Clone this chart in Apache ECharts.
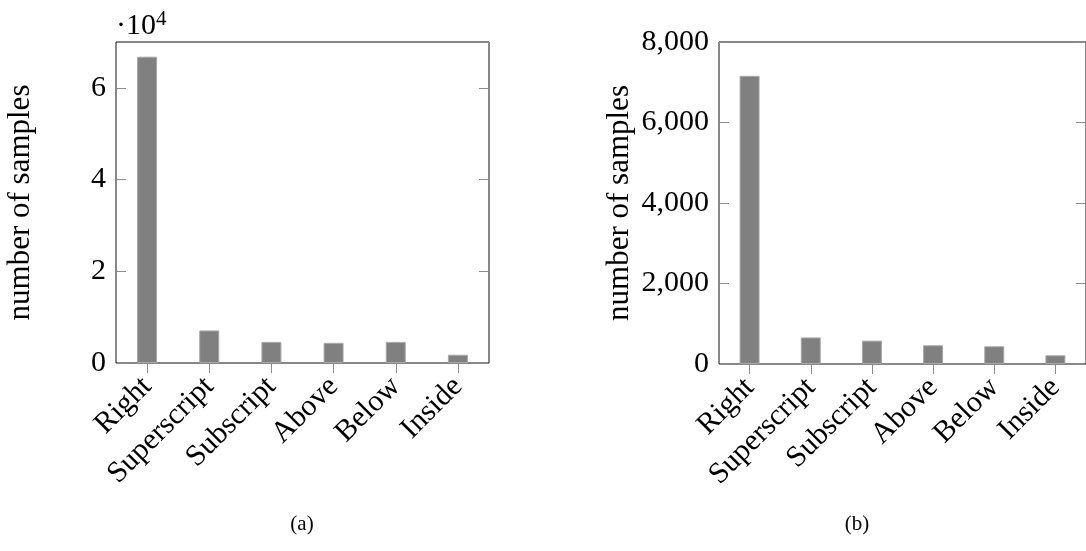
<!DOCTYPE html>
<html>
<head>
<meta charset="utf-8">
<script src="https://cdn.jsdelivr.net/npm/echarts@6/dist/echarts.min.js"></script>
<style>
html,body{margin:0;padding:0;background:#fff;}
#chart{width:1086px;height:551px;}
</style>
</head>
<body>
<div id="chart"></div>
<script>
const categories = ['Right', 'Superscript', 'Subscript', 'Above', 'Below', 'Inside'];
const valuesA = [66800, 7100, 4600, 4400, 4600, 1800];
const valuesB = [7160, 660, 580, 465, 440, 216];
const yMaxA = 70000, yIntervalA = 20000;
const yMaxB = 8000, yIntervalB = 2000;
const yAxisTitle = 'number of samples';
const multiplierLabel = '·10';
const multiplierExp = '4';
const captions = ['(a)', '(b)'];

const FONT = '"Liberation Serif", "Times New Roman", serif';
const FS = 30;
const tickColor = '#8c8c8c';
const boxColor = '#111';

const chart = echarts.init(document.getElementById('chart'), null, {renderer: 'canvas'});

function xBottom(grid) {
  return {
    type: 'category', gridIndex: grid, data: categories, position: 'bottom',
    boundaryGap: true,
    axisLine: {show: false},
    axisTick: {show: true, alignWithLabel: true, inside: false, length: 10, lineStyle: {color: tickColor, width: 1}},
    axisLabel: {rotate: 45, margin: 19, color: '#000', fontFamily: FONT, fontSize: FS, interval: 0},
    splitLine: {show: false}
  };
}
function xTop(grid) {
  return {
    type: 'category', gridIndex: grid, data: categories, position: 'top',
    boundaryGap: true,
    axisLine: {show: false},
    axisTick: {show: true, alignWithLabel: true, inside: false, length: 11, lineStyle: {color: tickColor, width: 1}},
    axisLabel: {show: false},
    splitLine: {show: false}
  };
}
function yLeft(grid, max, interval, fmt, gap) {
  return {
    type: 'value', gridIndex: grid, position: 'left', min: 0, max: max, interval: interval,
    axisLine: {show: false},
    axisTick: {show: true, inside: true, length: 10, lineStyle: {color: tickColor, width: 1}},
    axisLabel: {color: '#000', fontFamily: FONT, fontSize: FS, margin: 10, formatter: fmt, showMaxLabel: max % interval === 0},
    splitLine: {show: false},
    name: yAxisTitle, nameLocation: 'middle', nameRotate: 90, nameGap: gap,
    nameTextStyle: {color: '#000', fontFamily: FONT, fontSize: 31}
  };
}
function yRight(grid, max, interval) {
  return {
    type: 'value', gridIndex: grid, position: 'right', min: 0, max: max, interval: interval,
    axisLine: {show: false},
    axisTick: {show: true, inside: true, length: 10, lineStyle: {color: tickColor, width: 1}},
    axisLabel: {show: false},
    splitLine: {show: false}
  };
}

const barStyle = {color: '#808080', borderColor: '#a8a8a8', borderWidth: 1};

const option = {
  backgroundColor: '#fff',
  animation: false,
  grid: [
    {left: 116, top: 42, width: 373, height: 321, show: true, borderColor: boxColor, borderWidth: 1, backgroundColor: 'transparent'},
    {left: 719, top: 42, width: 374, height: 322, show: true, borderColor: boxColor, borderWidth: 1, backgroundColor: 'transparent'}
  ],
  xAxis: [xBottom(0), xTop(0), xBottom(1), xTop(1)],
  yAxis: [
    yLeft(0, yMaxA, yIntervalA, v => String(v / 10000), 80),
    yRight(0, yMaxA, yIntervalA),
    yLeft(1, yMaxB, yIntervalB, v => v.toLocaleString('en-US'), 84),
    yRight(1, yMaxB, yIntervalB)
  ],
  series: [
    {type: 'bar', xAxisIndex: 0, yAxisIndex: 0, data: valuesA, barWidth: 20, itemStyle: barStyle},
    {type: 'bar', xAxisIndex: 2, yAxisIndex: 2, data: valuesB, barWidth: 20, itemStyle: barStyle}
  ],
  graphic: [
    {type: 'text', left: 116, top: 9,
     style: {text: multiplierLabel + '{sup|' + multiplierExp + '}', fill: '#000', font: FS + 'px ' + FONT,
       rich: {sup: {fontSize: 21, fontFamily: FONT, fill: '#000', verticalAlign: 'top', padding: [0, 0, 14, 0]}}}},
    {type: 'text', x: 302, y: 524, style: {text: captions[0], fill: '#000', font: '21px ' + FONT, textAlign: 'center', textVerticalAlign: 'middle'}},
    {type: 'text', x: 857, y: 524, style: {text: captions[1], fill: '#000', font: '21px ' + FONT, textAlign: 'center', textVerticalAlign: 'middle'}}
  ]
};
chart.setOption(option);
</script>
</body>
</html>
